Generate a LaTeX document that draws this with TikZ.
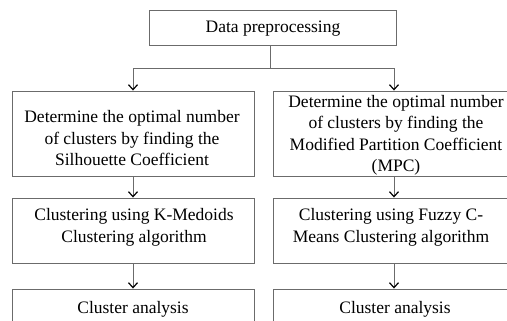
\documentclass[tikz,border=0pt]{standalone}
\usepackage{fontspec}
\setmainfont{Liberation Serif}
\usetikzlibrary{arrows.meta,calc}
\definecolor{edge}{gray}{0.42}
\begin{document}
\begin{tikzpicture}[x=1pt,y=-1pt,
  box/.style={draw=edge,line width=0.9pt,minimum width=242pt,inner sep=0pt},
  txt/.style={align=center,inner sep=0pt,font=\fontsize{17.5}{21.5}\selectfont},
  flow/.style={draw=edge,line width=0.9pt,
    -{Straight Barb[length=5pt,width=9pt,line width=1.2pt,color=black]}}
]
\useasboundingbox (0,0) rectangle (507,321);
\clip (0,0) rectangle (507,321);

% boxes
\node[box,minimum width=247pt,minimum height=35pt] (pre) at (272.5,27.5) {};
\node[box,minimum height=85pt] (silB) at (133,133.5) {};
\node[box,minimum height=85pt] (mpcB) at (394,133.5) {};
\node[box,minimum height=65pt] (kmB) at (133,230.5) {};
\node[box,minimum height=65pt] (fcmB) at (394,230.5) {};
\node[box,minimum height=44pt] (caL) at (133,311) {};
\node[box,minimum height=44pt] (caR) at (394,311) {};

% texts
\node[txt] (preT) at (273,29) {Data preprocessing};
\node[txt] (silT) at (132,138.5) {Determine the optimal number\\of clusters by finding the\\Silhouette Coefficient};
\node[txt] (mpcT) at (396,135.5) {Determine the optimal number\\of clusters by finding the\\Modified Partition Coefficient\\(MPC)};
\node[txt] (kmT) at (134,227.5) {Clustering using K-Medoids\\Clustering algorithm};
\node[txt] (fcmT) at (391,227.5) {Clustering using Fuzzy C-\\Means Clustering algorithm};
\node[txt] (caLT) at (133,309) {Cluster analysis};
\node[txt] (caRT) at (395,309) {Cluster analysis};

% split below the preprocessing step
\coordinate (j) at (270,68);
\draw[draw=edge,line width=0.9pt] (pre.south -| j) -- (j);
\draw[flow] (j) -| (silB.north);
\draw[flow] (j) -| (mpcB.north);

% vertical flow
\draw[flow] (silB.south) -- (kmB.north);
\draw[flow] (mpcB.south) -- (fcmB.north);
\draw[flow] (kmB.south) -- (caL.north);
\draw[flow] (fcmB.south) -- (caR.north);
\end{tikzpicture}
\end{document}
